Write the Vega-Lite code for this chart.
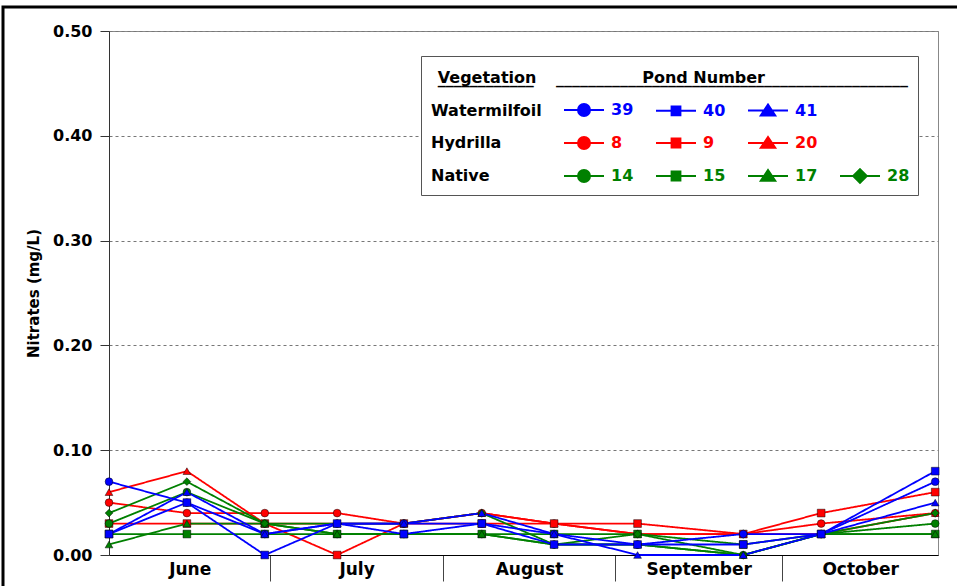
{
  "$schema": "https://vega.github.io/schema/vega-lite/v6.json",
  "width": 829,
  "height": 524,
  "autosize": {"type": "none"},
  "padding": {"left": 109, "top": 31, "right": 19, "bottom": 31},
  "background": "white",
  "data": {"values": [
    {"Pond": "8", "day": 1, "nitrate": 0.05}, {"Pond": "8", "day": 15, "nitrate": 0.04}, {"Pond": "8", "day": 29, "nitrate": 0.04}, {"Pond": "8", "day": 42, "nitrate": 0.04}, {"Pond": "8", "day": 54, "nitrate": 0.03}, {"Pond": "8", "day": 68, "nitrate": 0.04}, {"Pond": "8", "day": 81, "nitrate": 0.03}, {"Pond": "8", "day": 96, "nitrate": 0.02}, {"Pond": "8", "day": 115, "nitrate": 0.02}, {"Pond": "8", "day": 129, "nitrate": 0.03}, {"Pond": "8", "day": 149.5, "nitrate": 0.04},
    {"Pond": "20", "day": 1, "nitrate": 0.06}, {"Pond": "20", "day": 15, "nitrate": 0.08}, {"Pond": "20", "day": 29, "nitrate": 0.03}, {"Pond": "20", "day": 42, "nitrate": 0.03}, {"Pond": "20", "day": 54, "nitrate": 0.03}, {"Pond": "20", "day": 68, "nitrate": 0.04}, {"Pond": "20", "day": 81, "nitrate": 0.03}, {"Pond": "20", "day": 96, "nitrate": 0.02}, {"Pond": "20", "day": 115, "nitrate": 0.02}, {"Pond": "20", "day": 129, "nitrate": 0.02}, {"Pond": "20", "day": 149.5, "nitrate": 0.04},
    {"Pond": "9", "day": 1, "nitrate": 0.03}, {"Pond": "9", "day": 15, "nitrate": 0.03}, {"Pond": "9", "day": 29, "nitrate": 0.03}, {"Pond": "9", "day": 42, "nitrate": 0.0}, {"Pond": "9", "day": 54, "nitrate": 0.03}, {"Pond": "9", "day": 68, "nitrate": 0.03}, {"Pond": "9", "day": 81, "nitrate": 0.03}, {"Pond": "9", "day": 96, "nitrate": 0.03}, {"Pond": "9", "day": 115, "nitrate": 0.02}, {"Pond": "9", "day": 129, "nitrate": 0.04}, {"Pond": "9", "day": 149.5, "nitrate": 0.06},
    {"Pond": "14", "day": 1, "nitrate": 0.03}, {"Pond": "14", "day": 15, "nitrate": 0.06}, {"Pond": "14", "day": 29, "nitrate": 0.03}, {"Pond": "14", "day": 42, "nitrate": 0.02}, {"Pond": "14", "day": 54, "nitrate": 0.02}, {"Pond": "14", "day": 68, "nitrate": 0.02}, {"Pond": "14", "day": 81, "nitrate": 0.01}, {"Pond": "14", "day": 96, "nitrate": 0.01}, {"Pond": "14", "day": 115, "nitrate": 0.0}, {"Pond": "14", "day": 129, "nitrate": 0.02}, {"Pond": "14", "day": 149.5, "nitrate": 0.03},
    {"Pond": "15", "day": 1, "nitrate": 0.02}, {"Pond": "15", "day": 15, "nitrate": 0.02}, {"Pond": "15", "day": 29, "nitrate": 0.02}, {"Pond": "15", "day": 42, "nitrate": 0.02}, {"Pond": "15", "day": 54, "nitrate": 0.02}, {"Pond": "15", "day": 68, "nitrate": 0.02}, {"Pond": "15", "day": 81, "nitrate": 0.02}, {"Pond": "15", "day": 96, "nitrate": 0.02}, {"Pond": "15", "day": 115, "nitrate": 0.01}, {"Pond": "15", "day": 129, "nitrate": 0.02}, {"Pond": "15", "day": 149.5, "nitrate": 0.02},
    {"Pond": "17", "day": 1, "nitrate": 0.01}, {"Pond": "17", "day": 15, "nitrate": 0.03}, {"Pond": "17", "day": 29, "nitrate": 0.03}, {"Pond": "17", "day": 42, "nitrate": 0.02}, {"Pond": "17", "day": 54, "nitrate": 0.02}, {"Pond": "17", "day": 68, "nitrate": 0.02}, {"Pond": "17", "day": 81, "nitrate": 0.01}, {"Pond": "17", "day": 96, "nitrate": 0.01}, {"Pond": "17", "day": 115, "nitrate": 0.0}, {"Pond": "17", "day": 129, "nitrate": 0.02}, {"Pond": "17", "day": 149.5, "nitrate": 0.02},
    {"Pond": "28", "day": 1, "nitrate": 0.04}, {"Pond": "28", "day": 15, "nitrate": 0.07}, {"Pond": "28", "day": 29, "nitrate": 0.03}, {"Pond": "28", "day": 42, "nitrate": 0.03}, {"Pond": "28", "day": 54, "nitrate": 0.03}, {"Pond": "28", "day": 68, "nitrate": 0.04}, {"Pond": "28", "day": 81, "nitrate": 0.01}, {"Pond": "28", "day": 96, "nitrate": 0.02}, {"Pond": "28", "day": 115, "nitrate": 0.0}, {"Pond": "28", "day": 129, "nitrate": 0.02}, {"Pond": "28", "day": 149.5, "nitrate": 0.04},
    {"Pond": "39", "day": 1, "nitrate": 0.07}, {"Pond": "39", "day": 15, "nitrate": 0.05}, {"Pond": "39", "day": 29, "nitrate": 0.02}, {"Pond": "39", "day": 42, "nitrate": 0.03}, {"Pond": "39", "day": 54, "nitrate": 0.03}, {"Pond": "39", "day": 68, "nitrate": 0.03}, {"Pond": "39", "day": 81, "nitrate": 0.02}, {"Pond": "39", "day": 96, "nitrate": 0.01}, {"Pond": "39", "day": 115, "nitrate": 0.02}, {"Pond": "39", "day": 129, "nitrate": 0.02}, {"Pond": "39", "day": 149.5, "nitrate": 0.07},
    {"Pond": "41", "day": 1, "nitrate": 0.02}, {"Pond": "41", "day": 15, "nitrate": 0.06}, {"Pond": "41", "day": 29, "nitrate": 0.02}, {"Pond": "41", "day": 42, "nitrate": 0.03}, {"Pond": "41", "day": 54, "nitrate": 0.03}, {"Pond": "41", "day": 68, "nitrate": 0.04}, {"Pond": "41", "day": 81, "nitrate": 0.02}, {"Pond": "41", "day": 96, "nitrate": 0.0}, {"Pond": "41", "day": 115, "nitrate": 0.0}, {"Pond": "41", "day": 129, "nitrate": 0.02}, {"Pond": "41", "day": 149.5, "nitrate": 0.05},
    {"Pond": "40", "day": 1, "nitrate": 0.02}, {"Pond": "40", "day": 15, "nitrate": 0.05}, {"Pond": "40", "day": 29, "nitrate": 0.0}, {"Pond": "40", "day": 42, "nitrate": 0.03}, {"Pond": "40", "day": 54, "nitrate": 0.02}, {"Pond": "40", "day": 68, "nitrate": 0.03}, {"Pond": "40", "day": 81, "nitrate": 0.01}, {"Pond": "40", "day": 96, "nitrate": 0.01}, {"Pond": "40", "day": 115, "nitrate": 0.01}, {"Pond": "40", "day": 129, "nitrate": 0.02}, {"Pond": "40", "day": 149.5, "nitrate": 0.08}
  ]},
  "encoding": {
    "y": {
      "field": "nitrate", "type": "quantitative",
      "scale": {"domain": [0, 0.5], "nice": false},
      "axis": {
        "values": [0, 0.1, 0.2, 0.3, 0.4, 0.5], "format": ".2f",
        "title": "Nitrates (mg/L)", "titleFontSize": 15, "titlePadding": 11,
        "labelFontSize": 16, "tickSize": 9, "labelPadding": 8,
        "grid": true, "gridDash": [3, 3], "gridColor": "#777", "gridWidth": 1,
        "domainColor": "#333", "tickColor": "#333"
      }
    },
    "color": {
      "field": "Pond", "type": "nominal",
      "scale": {
        "domain": ["Watermilfoil", "39", "40", "41", "_b1", "Hydrilla", "8", "9", "20", "_b2", "Native", "14", "15", "17", "28"],
        "range": ["#000000", "#0000ff", "#0000ff", "#0000ff", "#ffffff", "#000000", "#ff0000", "#ff0000", "#ff0000", "#ffffff", "#000000", "#008000", "#008000", "#008000", "#008000"]
      },
      "legend": {
        "orient": "none", "legendX": 312, "legendY": 25,
        "direction": "horizontal", "columns": 5,
        "title": ["\u200b\u00a0\u2009Vegetation\u00a0\u00a0\u00a0\u00a0\u00a0\u00a0\u00a0\u00a0\u00a0\u00a0\u00a0\u00a0\u00a0\u00a0\u00a0\u00a0\u00a0\u00a0\u00a0Pond Number", "\u200b\u00a0\u2009____________\u00a0\u00a0\u00a0\u00a0____________________________________________"],
        "titleFont": "DejaVu Sans", "titleFontSize": 16, "titleFontWeight": "bold", "titleColor": "#000", "titleLineHeight": 1, "titleLimit": 700, "titlePadding": 8,
        "labelFont": "DejaVu Sans", "labelFontSize": 16, "labelFontWeight": "bold", "labelLimit": 300, "labelOffset": 6,
        "labelExpr": "datum.label == '_b1' || datum.label == '_b2' ? '' : length(datum.label) == 1 ? '\u2007' + datum.label : datum.label",
        "symbolSize": 1600, "symbolStrokeWidth": 2,
        "columnPadding": 18, "rowPadding": 2,
        "padding": 8, "strokeColor": "#555", "fillColor": "#ffffff",
        "encode": {
          "title": {"update": {"dy": {"value": 6}}},
          "symbols": {
            "update": {
              "shape": {"signal": "indexof(['39','8','14'], datum.value) >= 0 ? 'M-1,0H1M-0.3,0A0.3,0.3,0,1,0,0.3,0A0.3,0.3,0,1,0,-0.3,0Z' : indexof(['40','9','15'], datum.value) >= 0 ? 'M-1,0H1M-0.22,-0.22H0.22V0.22H-0.22Z' : indexof(['41','20','17'], datum.value) >= 0 ? 'M-1,0H1M0,-0.3L0.36,0.24H-0.36Z' : datum.value == '28' ? 'M-1,0H1M0,-0.34L0.34,0L0,0.34L-0.34,0Z' : 'M0,0'"},
              "fill": {"signal": "scale('color', datum.value)"},
              "stroke": {"signal": "scale('color', datum.value)"},
              "strokeWidth": {"value": 2},
              "opacity": {"value": 1}
            }
          },
          "labels": {
            "update": {
              "fill": {"signal": "scale('color', datum.value)"},
              "dx": {"signal": "indexof(['Watermilfoil','Hydrilla','Native'], datum.value) >= 0 ? -46 : 0"}
            }
          }
        }
      }
    }
  },
  "layer": [
    {
      "mark": {"type": "line", "strokeWidth": 1.8},
      "encoding": {
        "x": {
          "field": "day", "type": "quantitative",
          "scale": {"domain": [1, 150], "nice": false, "zero": false},
          "axis": {"orient": "bottom", "values": [30, 61, 92, 122], "labels": false, "title": null, "grid": false, "tickSize": 26, "tickColor": "#444", "domainColor": "#000"}
        },
        "strokeDash": {
          "datum": "frame", "type": "nominal",
          "scale": {"range": [[1, 0]]},
          "legend": {
            "orient": "none", "legendX": -106, "legendY": -24,
            "title": null,
            "symbolType": "square", "symbolSize": 921600, "symbolOpacity": 0,
            "labelExpr": "''", "labelOffset": 0,
            "padding": 0, "strokeColor": "#000",
            "encode": {"legend": {"update": {"strokeWidth": {"value": 3}}}}
          }
        }
      }
    },
    {
      "mark": {"type": "point", "filled": true, "size": 60, "opacity": 1, "stroke": "#000", "strokeWidth": 0.8, "strokeOpacity": 0.6},
      "encoding": {
        "x": {
          "field": "day", "type": "quantitative",
          "axis": {"orient": "bottom", "values": [15.5, 45.5, 76.5, 107, 136], "title": null, "grid": false, "ticks": false, "domain": false, "labelPadding": 6, "labelFontSize": 17,
            "labelExpr": "datum.value < 30 ? 'June' : datum.value < 61 ? 'July' : datum.value < 92 ? 'August' : datum.value < 122 ? 'September' : 'October'"}
        },
        "shape": {
          "field": "Pond", "type": "nominal",
          "scale": {"domain": ["39", "40", "41", "8", "9", "20", "14", "15", "17", "28"], "range": ["circle", "square", "triangle-up", "circle", "square", "triangle-up", "circle", "square", "triangle-up", "diamond"]},
          "legend": null
        }
      }
    }
  ],
  "resolve": {"axis": {"x": "independent"}},
  "config": {
    "view": {"stroke": "#888", "strokeWidth": 1},
    "axis": {"labelFont": "DejaVu Sans", "labelFontWeight": "bold", "labelColor": "#000", "titleFont": "DejaVu Sans", "titleFontWeight": "bold", "titleColor": "#000"}
  }
}
